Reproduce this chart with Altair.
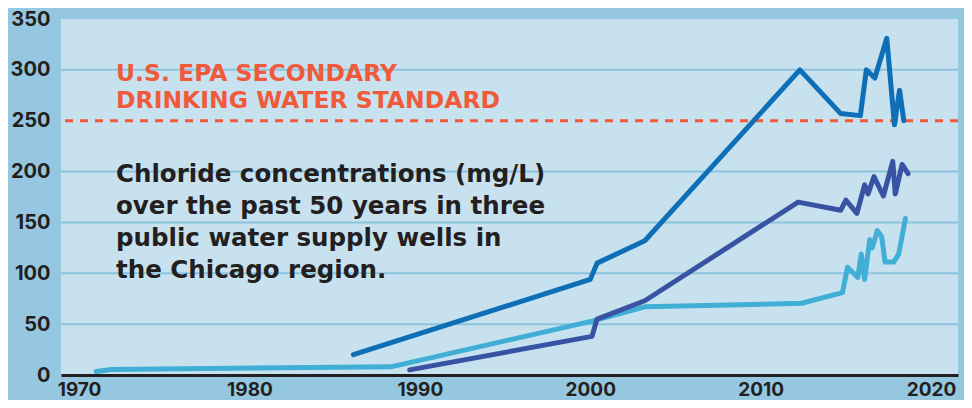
import altair as alt
import pandas as pd

# ---- data ----
years_dark = [1986.1, 2000.0, 2000.4, 2003.2, 2012.3, 2014.7, 2015.85, 2016.2, 2016.7, 2017.4, 2017.85, 2018.15, 2018.4]
vals_dark = [20, 94, 110, 132, 300, 257, 255, 300, 292, 331, 246, 280, 250]

years_purple = [1989.4, 2000.1, 2000.4, 2003.2, 2012.2, 2014.7, 2015.0, 2015.65, 2016.1, 2016.3, 2016.65, 2017.2, 2017.75, 2017.9, 2018.3, 2018.65]
vals_purple = [5, 38, 55, 73, 170, 162, 172, 159, 187, 178, 195, 176, 210, 178, 207, 198]

years_light = [1971.0, 1971.9, 1988.3, 2000.1, 2003.2, 2012.4, 2014.8, 2015.1, 2015.7, 2015.9, 2016.1, 2016.4, 2016.55, 2016.85, 2017.1, 2017.3, 2017.8, 2018.1, 2018.5]
vals_light = [3.5, 5.5, 8, 53, 67, 70.5, 81, 106, 96, 119, 94, 133, 125, 142, 136, 111, 111, 119, 154]

x_ticks = [1970, 1980, 1990, 2000, 2010, 2020]
y_ticks = [0, 50, 100, 150, 200, 250, 300, 350]
grid_values = [50, 100, 150, 200, 300]
standard_value = 250

red_label = "U.S. EPA SECONDARY\nDRINKING WATER STANDARD"
red_label_pos = (1972.17, 289.4)
note_label = "Chloride concentrations (mg/L)\nover the past 50 years in three\npublic water supply wells in\nthe Chicago region."
note_label_pos = (1972.17, 189.5)

# ---- styling ----
OUTER = "#96c7e1"
PLOT = "#c8e1ee"
GRID = "#8cc3df"
DARK = "#0e6fb7"
PURPLE = "#3853a3"
LIGHT = "#40aed5"
RED = "#ef5a3a"
INK = "#231f20"
FONT = "Inter"
TEXT_FONT = "DejaVu Sans"

x_scale = alt.Scale(domain=[1968.94, 2021.58], nice=False, zero=False)
y_scale = alt.Scale(domain=[0, 350], nice=False)

x_axis = alt.Axis(values=x_ticks, format="d", title=None, grid=False, ticks=False,
                  domain=True, domainColor=INK, domainWidth=3,
                  labelFont=FONT, labelFontWeight="bold", labelFontSize=19,
                  labelColor=INK, labelPadding=5)
y_axis = alt.Axis(values=y_ticks, title=None, grid=False, ticks=False, domain=False,
                  labelFont=FONT, labelFontWeight="bold", labelFontSize=20,
                  labelColor=INK, labelPadding=11)

grid_df = pd.DataFrame({"v": grid_values})
grid = alt.Chart(grid_df).mark_rule(color=GRID, strokeWidth=2).encode(
    y=alt.Y("v:Q", scale=y_scale, axis=y_axis)
)

std_df = pd.DataFrame({"v": [standard_value]})
std = alt.Chart(std_df).mark_rule(color=RED, strokeWidth=3, strokeDash=[8, 7]).encode(
    y=alt.Y("v:Q", scale=y_scale)
)

def well_line(years, vals, color):
    df = pd.DataFrame({"year": years, "value": vals})
    return alt.Chart(df).mark_line(color=color, strokeWidth=5, strokeCap="round",
                                   strokeJoin="round").encode(
        x=alt.X("year:Q", scale=x_scale, axis=x_axis),
        y=alt.Y("value:Q", scale=y_scale, axis=y_axis),
    )

light = well_line(years_light, vals_light, LIGHT)
purple = well_line(years_purple, vals_purple, PURPLE)
dark = well_line(years_dark, vals_dark, DARK)

red_df = pd.DataFrame({"x": [red_label_pos[0]], "y": [red_label_pos[1]], "t": [red_label]})
red_text = alt.Chart(red_df).mark_text(
    align="left", baseline="alphabetic", font=TEXT_FONT, fontWeight="bold", fontSize=23.5,
    color=RED, lineBreak="\n", lineHeight=27.5
).encode(x=alt.X("x:Q", scale=x_scale), y=alt.Y("y:Q", scale=y_scale), text="t:N")

note_df = pd.DataFrame({"x": [note_label_pos[0]], "y": [note_label_pos[1]], "t": [note_label]})
note_text = alt.Chart(note_df).mark_text(
    align="left", baseline="alphabetic", font=TEXT_FONT, fontWeight="bold", fontSize=24.5,
    color=INK, lineBreak="\n", lineHeight=32
).encode(x=alt.X("x:Q", scale=x_scale), y=alt.Y("y:Q", scale=y_scale), text="t:N")

chart = alt.layer(grid, std, light, purple, dark, red_text, note_text).properties(
    width=897, height=356,
    autosize=alt.AutoSizeParams(type="none"),
    padding={"left": 53, "top": 11, "right": 6, "bottom": 25},
    background=OUTER,
).configure_view(fill=PLOT, stroke=None)

chart.save("out.html", embed_options={"renderer": "svg", "actions": False})
